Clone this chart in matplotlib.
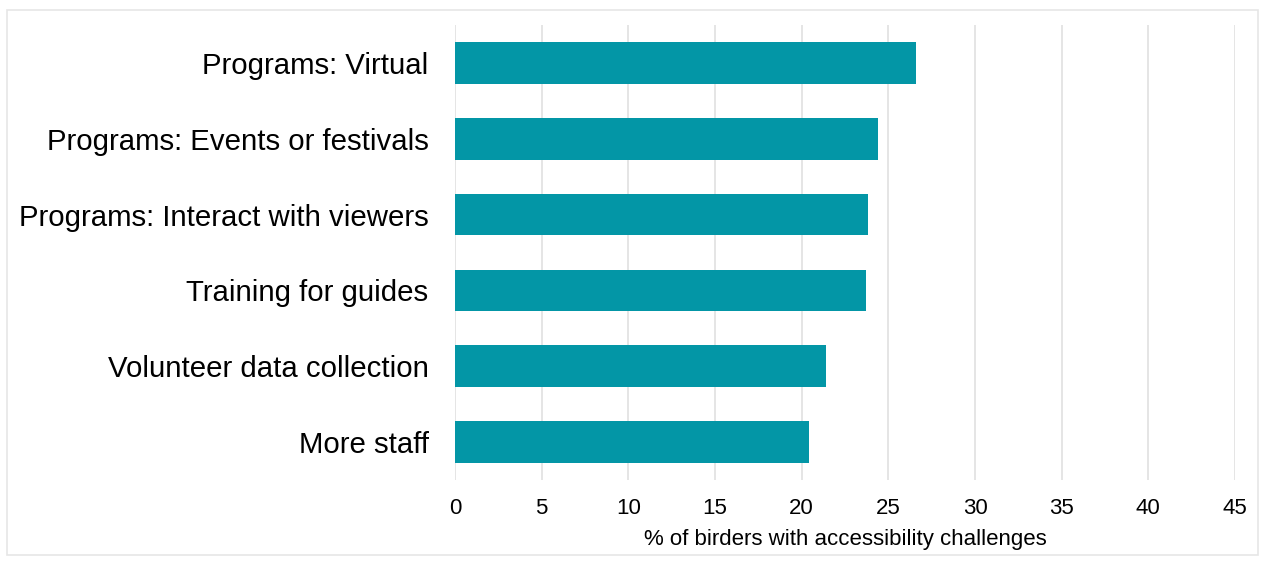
import matplotlib.pyplot as plt
from matplotlib.patches import Rectangle

categories = ['Programs: Virtual', 'Programs: Events or festivals',
              'Programs: Interact with viewers', 'Training for guides',
              'Volunteer data collection', 'More staff']
values = [26.6, 24.4, 23.8, 23.7, 21.4, 20.4]
xticks = [0, 5, 10, 15, 20, 25, 30, 35, 40, 45]

plt.rcParams['font.family'] = ['Liberation Sans', 'DejaVu Sans']

fig = plt.figure(figsize=(12.63, 5.61), dpi=100)
ax = fig.add_axes([455/1263, 1-480/561, (1235-455)/1263, (480-25)/561])

# light frame round the chart
fig.patches.append(Rectangle((7/1263, 1-555/561), 1251/1263, 545/561,
                             transform=fig.transFigure, fill=False,
                             edgecolor='#e6e6e6', linewidth=1.2))

ypos = list(range(len(categories)))
ax.barh(ypos, values, height=0.55, color='#0396a6', zorder=3)
ax.set_yticks(ypos)
ax.set_yticklabels(categories, fontsize=21.2, va='center_baseline')
ax.set_ylim(len(categories)-0.5, -0.5)

ax.set_xlim(0, 45)
ax.set_xticks(xticks)
ax.set_xticklabels([str(t) for t in xticks], fontsize=16)
ax.set_xlabel('% of birders with accessibility challenges', fontsize=16, labelpad=7)

ax.grid(axis='x', color='#e3e3e3', linewidth=1.3, zorder=0)
ax.tick_params(axis='both', length=0)
ax.tick_params(axis='y', pad=19)
ax.tick_params(axis='x', pad=13)
for s in ax.spines.values():
    s.set_visible(False)

plt.savefig('out.png', dpi=100)
